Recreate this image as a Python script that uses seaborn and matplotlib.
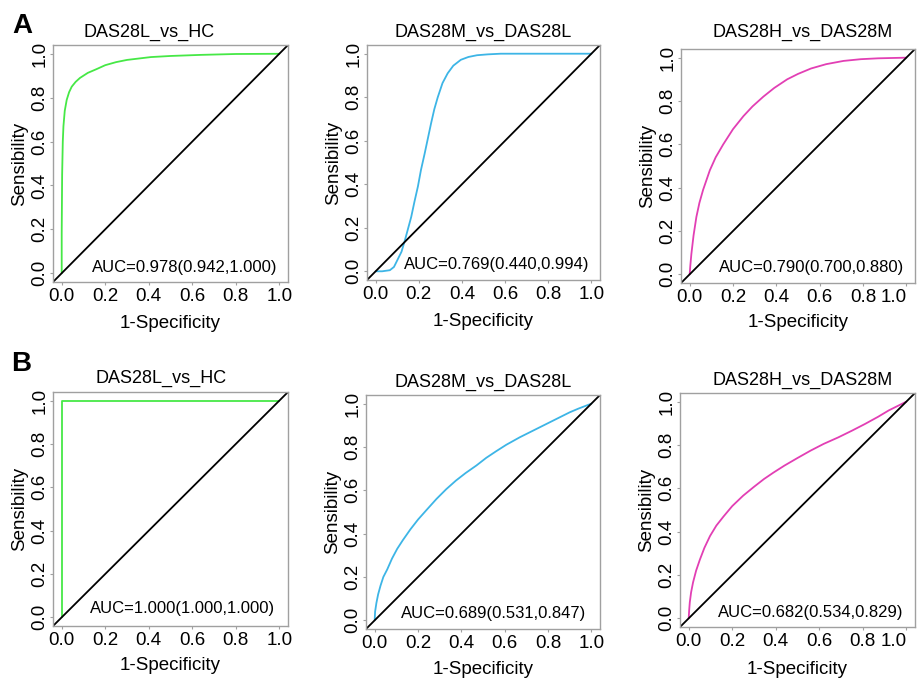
import matplotlib
matplotlib.use("Agg")
import matplotlib.pyplot as plt
import seaborn as sns
import pandas as pd

sns.set_style("white")
plt.rcParams["font.family"] = ["Liberation Sans", "DejaVu Sans"]
plt.rcParams["text.color"] = "black"
plt.rcParams["axes.labelcolor"] = "black"

# panel titles, AUC texts and colours
titles = ["DAS28L_vs_HC", "DAS28M_vs_DAS28L", "DAS28H_vs_DAS28M",
          "DAS28L_vs_HC", "DAS28M_vs_DAS28L", "DAS28H_vs_DAS28M"]
auc_texts = ["AUC=0.978(0.942,1.000)", "AUC=0.769(0.440,0.994)", "AUC=0.790(0.700,0.880)",
             "AUC=1.000(1.000,1.000)", "AUC=0.689(0.531,0.847)", "AUC=0.682(0.534,0.829)"]
colors = ["#46e846", "#3db5e6", "#e23fb4", "#46e846", "#3db5e6", "#e23fb4"]

# ROC curves (1-specificity, sensitivity)
a1_fpr = [0.0, 0.0, 0.002, 0.005, 0.008, 0.014, 0.023, 0.034, 0.046, 0.064, 0.084, 0.12,
          0.16, 0.2, 0.25, 0.3, 0.41, 0.5, 0.64, 0.8, 1.0]
a1_tpr = [0.0, 0.18, 0.45, 0.6, 0.67, 0.74, 0.79, 0.825, 0.85, 0.872, 0.89, 0.913,
          0.93, 0.948, 0.962, 0.972, 0.985, 0.99, 0.995, 0.999, 1.0]
a2_fpr = [0.0, 0.03, 0.066, 0.085, 0.10, 0.12, 0.135, 0.15, 0.165, 0.18, 0.196, 0.21, 0.227,
          0.242, 0.257, 0.272, 0.288, 0.31, 0.334, 0.36, 0.395, 0.43, 0.47, 0.52, 0.58, 1.0]
a2_tpr = [0.0, 0.0, 0.005, 0.02, 0.05, 0.09, 0.14, 0.195, 0.25, 0.32, 0.39, 0.465, 0.54,
          0.61, 0.68, 0.745, 0.80, 0.865, 0.91, 0.945, 0.972, 0.985, 0.993, 0.997, 1.0, 1.0]
a3_fpr = [0.0, 0.003, 0.008, 0.018, 0.031, 0.045, 0.062, 0.093, 0.12, 0.155, 0.2, 0.248,
          0.29, 0.34, 0.39, 0.45, 0.5, 0.56, 0.63, 0.71, 0.79, 0.87, 1.0]
a3_tpr = [0.0, 0.04, 0.095, 0.18, 0.265, 0.33, 0.39, 0.48, 0.54, 0.60, 0.67, 0.73,
          0.775, 0.82, 0.86, 0.90, 0.925, 0.95, 0.97, 0.985, 0.993, 0.997, 1.0]
b1_fpr = [0.0, 0.0, 1.0]
b1_tpr = [0.0, 1.0, 1.0]
b2_fpr = [0.0, 0.002, 0.008, 0.016, 0.027, 0.04, 0.058, 0.08, 0.104, 0.13, 0.165, 0.2, 0.24,
          0.285, 0.33, 0.375, 0.42, 0.47, 0.515, 0.56, 0.607, 0.67, 0.73, 0.79, 0.85, 0.9,
          0.94, 1.0]
b2_tpr = [0.0, 0.04, 0.08, 0.12, 0.16, 0.2, 0.235, 0.285, 0.33, 0.37, 0.42, 0.465, 0.51,
          0.56, 0.605, 0.645, 0.68, 0.715, 0.75, 0.78, 0.81, 0.845, 0.875, 0.905, 0.935, 0.96,
          0.977, 1.0]
b3_fpr = [0.0, 0.002, 0.005, 0.011, 0.02, 0.034, 0.051, 0.072, 0.098, 0.127, 0.16, 0.2, 0.25,
          0.3, 0.346, 0.39, 0.44, 0.5, 0.56, 0.62, 0.687, 0.75, 0.81, 0.87, 0.92, 0.96, 1.0]
b3_tpr = [0.0, 0.035, 0.074, 0.12, 0.166, 0.22, 0.27, 0.325, 0.38, 0.428, 0.47, 0.518, 0.566,
          0.607, 0.643, 0.673, 0.705, 0.74, 0.774, 0.805, 0.835, 0.866, 0.897, 0.93, 0.96,
          0.98, 1.0]

curves = [(a1_fpr, a1_tpr), (a2_fpr, a2_tpr), (a3_fpr, a3_tpr),
          (b1_fpr, b1_tpr), (b2_fpr, b2_tpr), (b3_fpr, b3_tpr)]
ticks = [0.0, 0.2, 0.4, 0.6, 0.8, 1.0]

W, H = 917, 678
fig = plt.figure(figsize=(W / 100, H / 100), dpi=100)

# axes boxes in pixels: left, top, right, bottom
boxes = [(53, 45, 288, 282), (367, 45, 600, 280), (681, 49, 915, 283),
         (53, 392, 288, 626), (366, 395, 600, 629), (680, 393, 915, 627)]
title_x = [0.41, 0.5, 0.52, 0.46, 0.5, 0.52]
title_dy = [13, 13, 17, 14, 13, 13]
xlab_dy = [41, 41, 40, 39, 41, 42]
auc_pos = [(0.56, 0.063), (0.555, 0.064), (0.56, 0.068),
           (0.55, 0.073), (0.547, 0.068), (0.557, 0.064)]
grey = "#a0a0a0"

for i, (l, t, r, b) in enumerate(boxes):
    ax = fig.add_axes([l / W, (H - b) / H, (r - l) / W, (b - t) / H])
    fpr, tpr = curves[i]
    df = pd.DataFrame({"fpr": fpr, "tpr": tpr})
    sns.lineplot(data=df, x="fpr", y="tpr", sort=False, estimator=None,
                 color=colors[i], lw=1.3, ax=ax)
    ax.axline((0, 0), (1, 1), color="black", lw=1.3)
    ax.set_xlim(-0.04, 1.04)
    ax.set_ylim(-0.04, 1.04)
    ax.set_xticks(ticks)
    ax.set_yticks(ticks)
    ax.set_xticklabels([f"{v:.1f}" for v in ticks])
    ax.set_yticklabels([f"{v:.1f}" for v in ticks], rotation=90, va="center")
    ax.tick_params(axis="both", length=2.5, width=0.8, color=grey, labelsize=13.5,
                   labelcolor="black", direction="out", bottom=True, left=True)
    ax.tick_params(axis="x", pad=2)
    ax.tick_params(axis="y", pad=1)
    if r > 900:
        # keep the last label inside the figure
        ax.get_xticklabels()[-1].set_horizontalalignment("right")
    for s in ax.spines.values():
        s.set_color(grey)
        s.set_linewidth(1.0)
    h = b - t
    w = r - l
    ax.set_xlabel("1-Specificity", fontsize=13.5, va="center")
    ax.xaxis.set_label_coords(0.5, -xlab_dy[i] / h)
    ax.set_ylabel("Sensibility", fontsize=13.5, va="center")
    ax.yaxis.set_label_coords(-33 / w, 0.5)
    ax.text(title_x[i], 1 + title_dy[i] / h, titles[i], transform=ax.transAxes,
            ha="center", va="center", fontsize=13)
    ax.text(auc_pos[i][0], auc_pos[i][1], auc_texts[i], transform=ax.transAxes,
            ha="center", va="center", fontsize=12)

fig.text(22 / W, 1 - 26 / H, "A", fontsize=20, fontweight="bold", ha="center", va="center")
fig.text(21 / W, 1 - 364 / H, "B", fontsize=20, fontweight="bold", ha="center", va="center")

fig.savefig("out.png", dpi=100, facecolor="white")
